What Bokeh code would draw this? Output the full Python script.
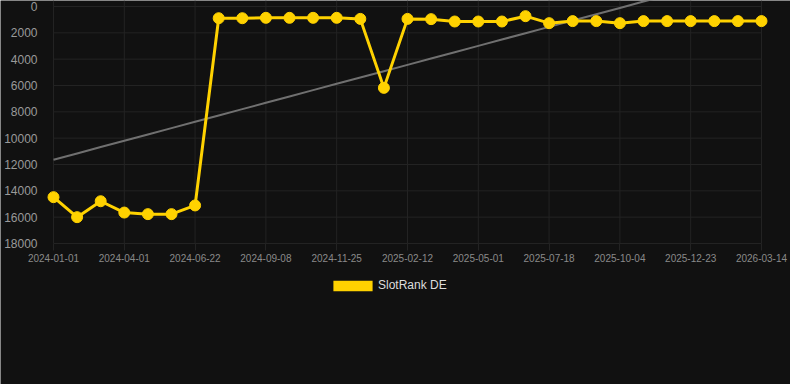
import numpy as np
from bokeh.plotting import figure
from bokeh.models import (ColumnDataSource, Range1d, FixedTicker, Legend, LegendItem)
from bokeh.embed import file_html
from bokeh.resources import INLINE

dates = ["2024-01-01", "2024-01-31", "2024-03-01", "2024-04-01", "2024-04-28",
         "2024-05-25", "2024-06-22", "2024-07-18", "2024-08-13", "2024-09-08",
         "2024-10-04", "2024-10-30", "2024-11-25", "2024-12-21", "2025-01-17",
         "2025-02-12", "2025-03-10", "2025-04-05", "2025-05-01", "2025-05-27",
         "2025-06-22", "2025-07-18", "2025-08-13", "2025-09-08", "2025-10-04",
         "2025-10-30", "2025-11-27", "2025-12-23", "2026-01-19", "2026-02-16",
         "2026-03-14"]
rank = [14480, 16000, 14790, 15650, 15770, 15770, 15110, 890, 890, 860,
        860, 860, 860, 940, 6180, 940, 960, 1140, 1140, 1140,
        735, 1265, 1110, 1110, 1265, 1110, 1110, 1110, 1110, 1110,
        1110]
series_name = "SlotRank DE"
y_ticks = [0, 2000, 4000, 6000, 8000, 10000, 12000, 14000, 16000, 18000]
x_ticks = list(range(0, len(dates), 3))

BG = "#111111"
GRID = "#232323"
YELLOW = "#FFD200"

W, H = 790, 384
# vertical layout: value 0 at 6px, 18000 at 243px
PX_PER_UNIT = 237 / 18000
Y_TOP = -6 / PX_PER_UNIT
Y_BOTTOM = 18000 + (H - 243) / PX_PER_UNIT
# horizontal layout: first point at 53px, last at 761px
N = len(dates)
PX_PER_IDX = (761 - 53) / (N - 1)
X_LEFT = -53 / PX_PER_IDX
X_RIGHT = (N - 1) + (W - 761) / PX_PER_IDX
Y_AXIS_AT = -6 / PX_PER_IDX

idx = np.arange(N)
slope, intercept = np.polyfit(idx, np.array(rank, dtype=float), 1)
trend = intercept + slope * idx

p = figure(width=W, height=H, frame_width=W, frame_height=H,
           output_backend="svg", toolbar_location=None,
           x_range=Range1d(X_LEFT, X_RIGHT), y_range=Range1d(Y_BOTTOM, Y_TOP),
           min_border_left=0, min_border_right=0, min_border_top=0,
           min_border_bottom=0)
p.background_fill_color = BG
p.border_fill_color = BG
p.outline_line_color = None

# grid lines, limited to the data area
p.segment(x0=x_ticks, x1=x_ticks, y0=[Y_TOP] * len(x_ticks),
          y1=[y_ticks[-1]] * len(x_ticks), line_color=GRID, line_width=1)
p.segment(x0=[0] * len(y_ticks), x1=[N - 1] * len(y_ticks), y0=y_ticks,
          y1=y_ticks, line_color=GRID, line_width=1)

src = ColumnDataSource(dict(x=idx, y=rank, t=trend))
p.line("x", "t", source=src, line_color="#707070", line_width=2)
p.line("x", "y", source=src, line_color=YELLOW, line_width=3)
p.scatter("x", "y", source=src, size=11, fill_color=YELLOW, line_color=YELLOW)

# legend swatch proxy: zero-area quad at the first point (draws nothing in the plot)
sw = p.quad(left=[idx[0]], right=[idx[0]], top=[rank[0]], bottom=[rank[0]],
            fill_color=YELLOW, line_color=None)

p.xaxis.ticker = FixedTicker(ticks=x_ticks)
p.xaxis.major_label_overrides = {i: dates[i] for i in x_ticks}
p.xaxis.fixed_location = y_ticks[-1]
p.yaxis.ticker = FixedTicker(ticks=y_ticks)
p.yaxis.fixed_location = Y_AXIS_AT

for ax in (p.xaxis, p.yaxis):
    ax.axis_line_color = None
    ax.minor_tick_line_color = None
    ax.major_label_text_font = "Liberation Sans"

p.xaxis.major_tick_line_color = GRID
p.xaxis.major_tick_out = 7
p.xaxis.major_tick_in = 0
p.xaxis.major_label_standoff = 3
p.xaxis.major_label_text_font_size = "10px"
p.xaxis.major_label_text_color = "#8a8a8a"

p.yaxis.major_tick_line_color = None
p.yaxis.major_label_standoff = 4
p.yaxis.major_label_text_font_size = "12px"
p.yaxis.major_label_text_color = "#9a9a9a"

p.xgrid.visible = False
p.ygrid.visible = False

legend = Legend(items=[LegendItem(label=series_name, renderers=[sw])],
                location=(328, 92), orientation="horizontal",
                background_fill_alpha=0, border_line_color=None,
                padding=0, margin=0, glyph_width=49, glyph_height=13,
                label_standoff=1, label_text_color="#dddddd",
                label_text_font="Liberation Sans", label_text_font_size="12px",
                label_height=13)
p.add_layout(legend, "center")

open("out.html", "w").write(file_html(p, INLINE))
